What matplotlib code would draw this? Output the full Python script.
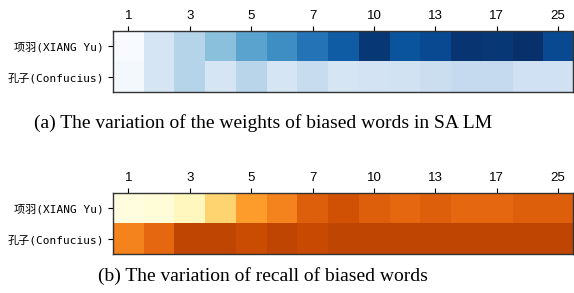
import numpy as np
import matplotlib
matplotlib.use('Agg')
import matplotlib.pyplot as plt

# данные: столбцы (номера) и строки (слова)
columns = [1, 2, 3, 4, 5, 6, 7, 8, 10, 11, 13, 15, 17, 20, 25]
words = ['项羽(XIANG Yu)', '孔子(Confucius)']

# (a) веса смещённых слов в SA LM
weights_xiang = [0.00, 0.17, 0.30, 0.42, 0.55, 0.64, 0.74, 0.83, 0.97, 0.86, 0.90, 0.98, 0.97, 1.00, 0.90]
weights_conf = [0.02, 0.17, 0.30, 0.17, 0.29, 0.17, 0.24, 0.17, 0.18, 0.19, 0.22, 0.25, 0.25, 0.20, 0.20]

# (b) recall смещённых слов
recall_xiang = [0.02, 0.04, 0.12, 0.31, 0.49, 0.57, 0.68, 0.73, 0.68, 0.65, 0.68, 0.65, 0.65, 0.68, 0.68]
recall_conf = [0.57, 0.65, 0.78, 0.78, 0.75, 0.78, 0.76, 0.78, 0.78, 0.78, 0.78, 0.78, 0.78, 0.78, 0.78]

captions = ['(a) The variation of the weights of biased words in SA LM',
            '(b) The variation of recall of biased words']

fig = plt.figure(figsize=(5.74, 2.93), dpi=100)

panels = [
    (np.array([weights_xiang, weights_conf]), 'Blues', [0.197, 0.686, 0.802, 0.208]),
    (np.array([recall_xiang, recall_conf]), 'YlOrBr', [0.197, 0.133, 0.802, 0.208]),
]

for data, cmap, rect in panels:
    ax = fig.add_axes(rect)
    ax.imshow(data, cmap=cmap, vmin=0, vmax=1, aspect='auto', interpolation='nearest')
    ax.xaxis.tick_top()
    ax.set_xticks(range(0, len(columns), 2))
    ax.set_xticklabels([str(c) for c in columns[::2]], fontsize=9.5, family='Liberation Sans')
    ax.set_yticks(range(len(words)))
    ax.set_yticklabels(words, fontsize=8, family=['DejaVu Sans Mono', 'Noto Sans CJK SC'])
    ax.tick_params(length=3.5, width=0.8, pad=3)
    for s in ax.spines.values():
        s.set_linewidth(1.0)
        s.set_color('#333333')

fig.text(0.458, 1 - 123 / 293, captions[0], ha='center', va='center',
         fontsize=14, family='Liberation Serif')
fig.text(0.458, 1 - 276 / 293, captions[1], ha='center', va='center',
         fontsize=14, family='Liberation Serif')

plt.savefig('out.png', dpi=100)
